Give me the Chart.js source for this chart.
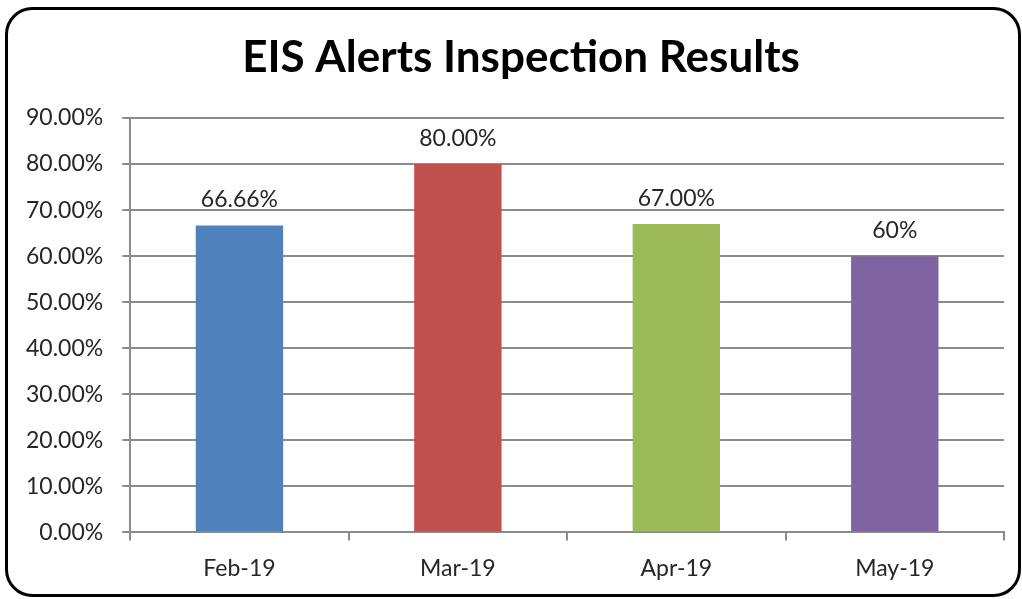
<!DOCTYPE html>
<html><head><meta charset="utf-8">
<script src="https://cdn.jsdelivr.net/npm/chart.js@4/dist/chart.umd.min.js"></script>
<style>html,body{margin:0;padding:0;background:#fff;overflow:hidden}#wrap{width:1022px;height:599px;position:relative}</style>
</head><body><div id="wrap"><canvas id="c" width="1022" height="599"></canvas></div>
<script>
const categories = ["Feb-19", "Mar-19", "Apr-19", "May-19"];
const values = [66.66, 80.0, 67.0, 60.0];
const valueLabels = ["66.66%", "80.00%", "67.00%", "60%"];
const barColors = ["#4F81BD", "#C0504D", "#9BBB59", "#8064A2"];
const chartTitle = "EIS Alerts Inspection Results";
const yMin = 0, yMax = 90, yStep = 10;

const frame = {
  id: 'frame',
  beforeDraw(chart) {
    const ctx = chart.ctx;
    ctx.save();
    ctx.fillStyle = '#fff';
    ctx.fillRect(0, 0, chart.width, chart.height);
    ctx.strokeStyle = '#000';
    ctx.lineWidth = 3;
    ctx.beginPath();
    ctx.roundRect(6.5, 8.5, 1013, 587, 26);
    ctx.stroke();
    ctx.font = 'bold 44px Lato';
    ctx.fillStyle = '#000';
    ctx.textAlign = 'center';
    ctx.textBaseline = 'middle';
    ctx.fillText(chartTitle, 521, 58);
    ctx.restore();
  }
};
const labelsPlugin = {
  id: 'valLabels',
  afterDatasetsDraw(chart) {
    const ctx = chart.ctx;
    const meta = chart.getDatasetMeta(0);
    ctx.save();
    ctx.font = '23px Lato';
    ctx.fillStyle = '#262626';
    ctx.textAlign = 'center';
    ctx.textBaseline = 'bottom';
    meta.data.forEach((bar, i) => {
      ctx.fillText(valueLabels[i], bar.x, bar.y - 14);
    });
    ctx.restore();
  }
};

new Chart(document.getElementById('c'), {
  type: 'bar',
  data: {
    labels: categories,
    datasets: [{ data: values, backgroundColor: barColors, borderWidth: 0,
      barPercentage: 0.4, categoryPercentage: 1 }]
  },
  options: {
    responsive: false, animation: false,
    layout: { padding: { left: 7, right: 18, top: 118, bottom: 3 } },
    plugins: {
      legend: { display: false },
      tooltip: { enabled: false },
      title: { display: false }
    },
    scales: {
      x: {
        offset: true,
        grid: { offset: true, drawOnChartArea: false, drawTicks: true, tickLength: 8, color: '#8c8c8c', lineWidth: 2 },
        border: { color: '#8c8c8c', width: 2 },
        ticks: { color: '#262626', font: { family: 'Lato', size: 23 }, padding: 14 }
      },
      y: {
        min: yMin, max: yMax,
        grid: { color: '#8c8c8c', lineWidth: 2, tickLength: 8 },
        border: { color: '#8c8c8c', width: 2 },
        ticks: { stepSize: yStep, color: '#262626', font: { family: 'Lato', size: 23 }, padding: 19,
          callback: v => v.toFixed(2) + '%' }
      }
    }
  },
  plugins: [frame, labelsPlugin]
});
</script></body></html>
